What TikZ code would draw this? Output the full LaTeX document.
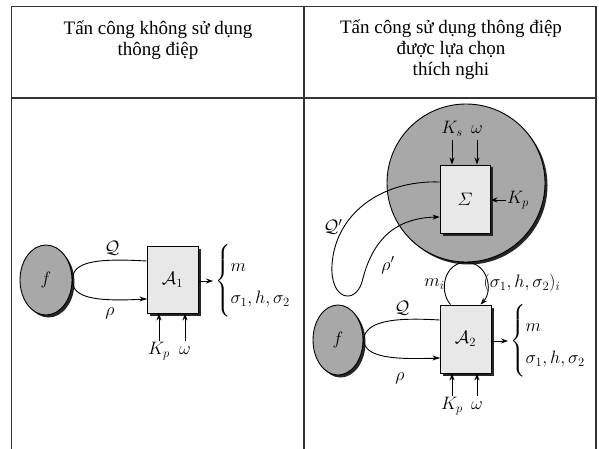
\RequirePackage{fix-cm}
\documentclass[tikz,border=0pt]{standalone}
\usepackage{amsmath}
\usepackage[no-math]{fontspec}
\setmainfont{Liberation Serif}
\usetikzlibrary{arrows.meta,shapes.geometric,shadows,calc}
\definecolor{boxFill}{HTML}{E8E8E8}
\definecolor{blobFill}{HTML}{A8A8A8}
\newcommand{\outlist}{\left\{\rule[-31pt]{0pt}{70pt}\def\arraystretch{1.45}%
  \begin{array}{@{}l@{}} m\\ \sigma_1,h,\sigma_2\end{array}\right.}
\tikzset{
  every node/.style={font=\fontsize{18}{22}\selectfont},
  shade box/.style={drop shadow={shadow xshift=2.5pt, shadow yshift=-2.5pt, fill=black!85, opacity=1}},
  box/.style={draw, line width=0.9pt, fill=boxFill, minimum width=51pt, minimum height=67pt, inner sep=0pt, shade box},
  blob/.style={draw, ellipse, line width=0.9pt, fill=blobFill, inner sep=0pt, shade box},
  wire/.style={line width=0.9pt},
  arr/.style={wire, -{Stealth[length=7pt,width=5pt]}},
  lab/.style={inner sep=1pt, text height=12.5pt, text depth=5pt},
  hdr/.style={align=center, font=\fontsize{19}{21}\selectfont},
  tbl/.style={line width=1.2pt, black!80}
}

\begin{document}
\begin{tikzpicture}[x=1pt, y=-1pt]
  \useasboundingbox (0,0) rectangle (599,449);
  % table
  \draw[tbl] (11.5,449) -- (11.5,6.5) -- (596,6.5) -- (596,449);
  \draw[tbl] (304,6.5) -- (304,449);
  \draw[tbl] (11.5,98) -- (596,98);
  \node[hdr] (head1) at (158,40) {Tấn công không sử dụng\\thông điệp};
  \node[hdr] (head2) at (451,50) {Tấn công sử dụng thông điệp\\được lựa chọn\\thích nghi};

  % left column
  \node[blob, minimum width=52pt, minimum height=70pt] (f1) at (46,280) {$f$};
  \node[box] (A1) at (172.5,279.5) {$\mathcal{A}_1$};
  \draw[wire] ($(A1.west)+(0,-18.5)$) .. controls (95,258) and (72,262) .. (f1.east)
    .. controls (72,298) and (95,302) .. ($(A1.west)+(0,19.5)$);
  \draw[arr] ($(A1.west)+(-12,19.5)$) -- ($(A1.west)+(0,19.5)$);
  \node (Q1) at (112,248) {$\mathcal{Q}$};
  \node (rho1) at (110,313) {$\rho$};
  \node[anchor=west, inner sep=2pt] (out1) at (213,281) {$\outlist$};
  \draw[arr] (A1.east |- out1.west) -- (out1.west);
  \node[lab, anchor=north] (kp1) at (159,341) {$K_p$};
  \node[lab, anchor=north] (w1) at (185,341) {$\omega$};
  \draw[arr] (kp1) -- (kp1 |- A1.south);
  \draw[arr] (w1) -- (w1 |- A1.south);

  % right column: signing oracle
  \node[blob, circle, minimum size=158pt] (S) at (466,183) {};
  \node[box, minimum height=68pt, minimum width=50pt] (Sig) at (465,199) {$\varSigma$};
  \node[lab, anchor=south] (ks) at (452,140) {$K_s$};
  \node[lab, anchor=south] (w2) at (477,140) {$\omega$};
  \draw[arr] (ks) -- (ks |- Sig.north);
  \draw[arr] (w2) -- (w2 |- Sig.north);
  \node[lab, anchor=west] (kp3) at (506,200) {$K_p$};
  \draw[arr] (kp3.west) -- (kp3.west -| Sig.east);
  \draw[arr] ($(Sig.west)+(0,-17)$) .. controls (380,180) and (335,215) .. (332,265)
    .. controls (330,300) and (355,305) .. (362,282)
    .. controls (372,240) and (395,218) .. ($(Sig.west)+(0,18)$);
  \node (Q3) at (333,227) {$\mathcal{Q}'$};
  \node (rho3) at (388,265) {$\rho'$};

  % right column: adversary
  \node[blob, minimum width=50pt, minimum height=70pt] (f2) at (338,340) {$f$};
  \node[box, minimum height=68pt] (A2) at (465.5,339) {$\mathcal{A}_2$};
  \draw[arr] ($(A2.north)+(-15,0)$) .. controls (438,290) and (445,262) .. (S.south)
    .. controls (487,262) and (494,290) .. ($(A2.north)+(15,0)$);
  \node[anchor=east] (mi) at (448,284) {$m_i$};
  \node[anchor=west] (sig3) at (480,283) {$(\sigma_1,h,\sigma_2)_i$};
  \draw[wire] ($(A2.west)+(0,-19)$) .. controls (390,317) and (365,322) .. (f2.east)
    .. controls (365,357) and (390,360) .. ($(A2.west)+(0,19)$);
  \draw[arr] ($(A2.west)+(-12,19)$) -- ($(A2.west)+(0,19)$);
  \node (Q2) at (402,308) {$\mathcal{Q}$};
  \node (rho2) at (400,378) {$\rho$};
  \node[anchor=west, inner sep=2pt] (out2) at (508,341) {$\outlist$};
  \draw[arr] (A2.east |- out2.west) -- (out2.west);
  \node[lab, anchor=north] (kp2) at (452,396) {$K_p$};
  \node[lab, anchor=north] (w3) at (477,396) {$\omega$};
  \draw[arr] (kp2) -- (kp2 |- A2.south);
  \draw[arr] (w3) -- (w3 |- A2.south);
\end{tikzpicture}
\end{document}
